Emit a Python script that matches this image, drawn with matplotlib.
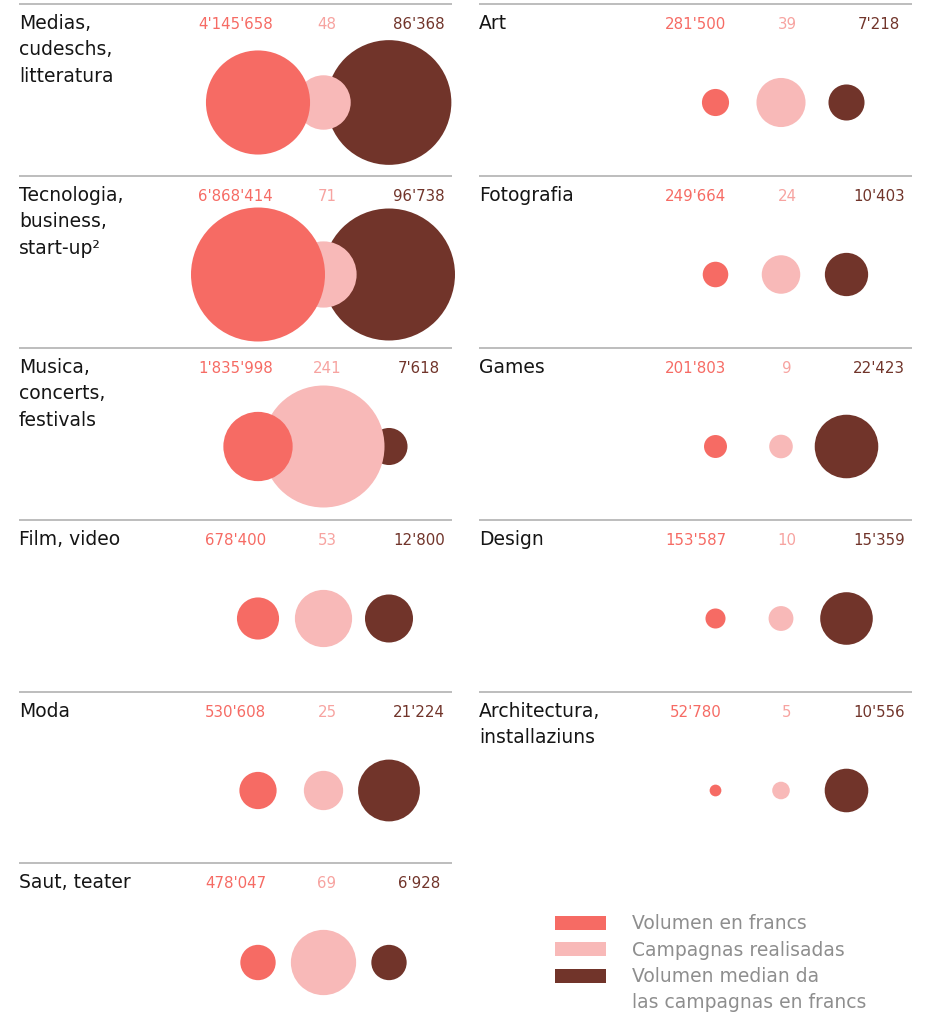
import matplotlib.pyplot as plt
from matplotlib.patches import Circle, Rectangle
import numpy as np

plt.rcParams['font.family'] = ['DejaVu Sans']

# categories, left column first then right column
left_labels = ['Medias,\ncudeschs,\nlitteratura', 'Tecnologia,\nbusiness,\nstart-up\u00b2',
               'Musica,\nconcerts,\nfestivals', 'Film, video', 'Moda', 'Saut, teater']
right_labels = ['Art', 'Fotografia', 'Games', 'Design', 'Architectura,\ninstallaziuns']

left_volume = [4145658, 6868414, 1835998, 678400, 530608, 478047]
left_campaigns = [48, 71, 241, 53, 25, 69]
left_median = [86368, 96738, 7618, 12800, 21224, 6928]

right_volume = [281500, 249664, 201803, 153587, 52780]
right_campaigns = [39, 24, 9, 10, 5]
right_median = [7218, 10403, 22423, 15359, 10556]

legend_labels = ['Volumen en francs', 'Campagnas realisadas',
                 'Volumen median da\nlas campagnas en francs']

c_vol = '#f66b64'
c_camp = '#f8b9b8'
c_med = '#71342a'
t_camp = '#f7a3a0'

# radius (px) of the biggest circle in each series, area ~ value
r_vol = 67.0
r_camp = 61.0
r_med = 66.0
max_vol = max(left_volume + right_volume)
max_camp = max(left_campaigns + right_campaigns)
max_med = max(left_median + right_median)

W, H = 929, 1013
fig = plt.figure(figsize=(W / 100, H / 100), dpi=100)
ax = fig.add_axes([0, 0, 1, 1])
ax.set_xlim(0, W)
ax.set_ylim(H, 0)
ax.set_aspect('equal')
ax.axis('off')


def fmt(v):
    return f'{v:,}'.replace(',', "'")


def panel(x0, y0, label, vol, camp, med, cx):
    ax.plot([x0, x0 + 433], [y0, y0], color='#b8b8b8', lw=1.3, solid_capstyle='butt')
    # one text per line so the spacing is fixed
    for n, line in enumerate(label.split('\n')):
        ax.text(x0, y0 + 25 + 26.5 * n, line, fontsize=13.5, color='#151515',
                va='baseline', ha='left')
    tb = y0 + 25
    ax.text(x0 + 216.5, tb, fmt(vol), fontsize=10.8, color=c_vol, ha='center', va='baseline')
    ax.text(x0 + 308, tb, fmt(camp), fontsize=10.8, color=t_camp, ha='center', va='baseline')
    ax.text(x0 + 400, tb, fmt(med), fontsize=10.8, color=c_med, ha='center', va='baseline')
    cy = y0 + 99
    ax.add_patch(Circle((cx[2], cy), r_med * np.sqrt(med / max_med), color=c_med, lw=0, zorder=2))
    ax.add_patch(Circle((cx[1], cy), r_camp * np.sqrt(camp / max_camp), color=c_camp, lw=0, zorder=3))
    ax.add_patch(Circle((cx[0], cy), r_vol * np.sqrt(vol / max_vol), color=c_vol, lw=0, zorder=4))


for i in range(len(left_labels)):
    panel(19, 3.5 + 172 * i, left_labels[i], left_volume[i], left_campaigns[i],
          left_median[i], [258, 323.5, 389])

for i in range(len(right_labels)):
    panel(479, 3.5 + 172 * i, right_labels[i], right_volume[i], right_campaigns[i],
          right_median[i], [715.5, 781, 846.5])

# legend
ty = 929
for k, (lab, col) in enumerate(zip(legend_labels, [c_vol, c_camp, c_med])):
    ax.add_patch(Rectangle((555, 916 + 26.3 * k), 51, 14, color=col, lw=0))
    for line in lab.split('\n'):
        ax.text(632, ty, line, fontsize=13.5, color='#8e8e8e', ha='left', va='baseline')
        ty += 26.5

fig.savefig('out.png', dpi=100)
